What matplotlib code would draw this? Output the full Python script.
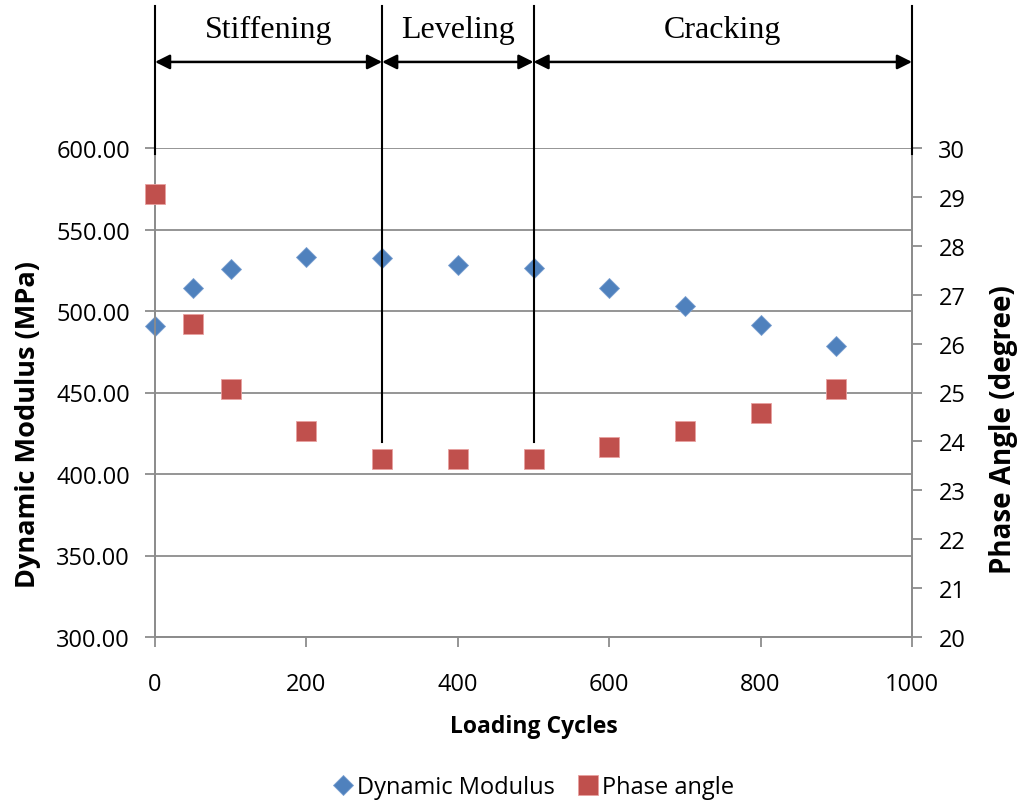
import matplotlib
matplotlib.use("Agg")
import matplotlib.pyplot as plt
from matplotlib.lines import Line2D

# Loading cycles and measured responses
cycles = [0, 50, 100, 200, 300, 400, 500, 600, 700, 800, 900]
dynamic_modulus = [490.8, 513.9, 525.5, 533.3, 532.3, 528.2, 526.2, 513.9, 503.1, 491.3, 478.7]
phase_angle = [29.05, 26.40, 25.08, 24.22, 23.63, 23.63, 23.63, 23.88, 24.22, 24.59, 25.08]

# Stage boundaries and names
stage_bounds = [0, 300, 500, 1000]
stage_names = ["Stiffening", "Leveling", "Cracking"]

x_ticks = [0, 200, 400, 600, 800, 1000]
left_ticks = [300, 350, 400, 450, 500, 550, 600]
right_ticks = list(range(20, 31))

BLUE = "#4F81BD"
RED = "#C0504D"
GRID = "#8C8C8C"

plt.rcParams["font.family"] = ["Open Sans", "DejaVu Sans"]

fig = plt.figure(figsize=(10.17, 8.03), dpi=100)
ax = fig.add_axes([155 / 1017, 1 - 638 / 803, (912 - 155) / 1017, (638 - 149) / 803])
ax2 = ax.twinx()

ax.set_xlim(0, 1000)
ax.set_ylim(300, 600)
ax2.set_ylim(20, 30)

ax.set_xticks(x_ticks)
ax.set_yticks(left_ticks)
ax.set_yticklabels([f"{v:.2f}" for v in left_ticks])
ax2.set_yticks(right_ticks)

ax.yaxis.grid(True, color=GRID, linewidth=1.3)
ax.set_axisbelow(True)

for a in (ax, ax2):
    for side in ("left", "right", "bottom"):
        a.spines[side].set_color(GRID)
        a.spines[side].set_linewidth(1.3)
    a.spines["top"].set_visible(False)
    a.tick_params(axis="both", which="both", length=7, width=1.3, color=GRID,
                  labelsize=17, labelcolor="black", direction="out")
ax.tick_params(axis="x", pad=18)
ax.tick_params(axis="y", pad=11)
ax2.tick_params(axis="y", pad=12)

ax.plot(cycles, dynamic_modulus, linestyle="none", marker="D", markersize=10.3,
        color=BLUE, markeredgecolor="#7A9FD0", markeredgewidth=0.6, zorder=3, clip_on=False)
ax2.plot(cycles, phase_angle, linestyle="none", marker="s", markersize=14,
         color=RED, markeredgecolor="#E8A0A0", markeredgewidth=0.6, zorder=3, clip_on=False)

ax.set_xlabel("Loading Cycles", fontsize=16.5, fontweight="bold", labelpad=13)
ax.set_ylabel("Dynamic Modulus (MPa)", fontsize=19.5, fontweight="bold")
ax2.set_ylabel("Phase Angle (degree)", fontsize=20, fontweight="bold")
ax.yaxis.set_label_coords(-0.150, 0.436)
ax2.yaxis.set_label_coords(1.102, 0.427)

# Stage dividers, arrows and stage names above the plot area
trans = ax2.get_xaxis_transform()
line_top = 1.290
arrow_y = 1.176
text_y = 1.243
for xb in stage_bounds:
    bottom = 0.988 if xb in (stage_bounds[0], stage_bounds[-1]) else 0.399
    ax2.add_line(Line2D([xb, xb], [bottom, line_top], transform=trans, color="black",
                        linewidth=1.5, clip_on=False, zorder=6))
for (x0, x1), name in zip(zip(stage_bounds[:-1], stage_bounds[1:]), stage_names):
    ax2.annotate("", xy=(x1, arrow_y), xytext=(x0, arrow_y), xycoords=trans, textcoords=trans,
                 arrowprops=dict(arrowstyle="<|-|>", color="black", lw=1.8,
                                 mutation_scale=22, shrinkA=0, shrinkB=0),
                 annotation_clip=False, zorder=6)
    ax2.text((x0 + x1) / 2, text_y, name, transform=trans, ha="center", va="center",
             fontsize=23, family=["Liberation Serif", "DejaVu Serif"], clip_on=False)

handles = [
    Line2D([], [], linestyle="none", marker="D", markersize=10.3, color=BLUE,
           markeredgecolor="#7A9FD0", markeredgewidth=0.6, label="Dynamic Modulus"),
    Line2D([], [], linestyle="none", marker="s", markersize=14, color=RED,
           markeredgecolor="#E8A0A0", markeredgewidth=0.6, label="Phase angle"),
]
fig.legend(handles=handles, loc="center", bbox_to_anchor=(0.524, 1 - 788 / 803), ncol=2,
           frameon=False, fontsize=17, handletextpad=0.1, columnspacing=0.9,
           handlelength=1.0)

fig.savefig("out.png", dpi=100)
